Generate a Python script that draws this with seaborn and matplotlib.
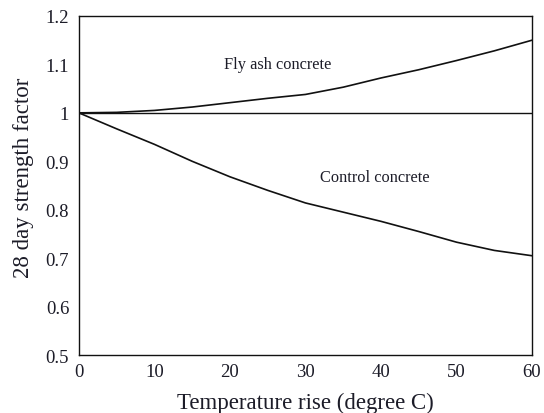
import matplotlib
matplotlib.use("Agg")
import matplotlib.pyplot as plt
import seaborn as sns
import pandas as pd

temperature = [0, 5, 10, 15, 20, 25, 30, 35, 40, 45, 50, 55, 60]
fly_ash = [1.0, 1.001, 1.005, 1.012, 1.021, 1.030, 1.038, 1.053, 1.072, 1.089, 1.108, 1.128, 1.150]
control = [1.0, 0.967, 0.935, 0.900, 0.868, 0.840, 0.814, 0.795, 0.776, 0.755, 0.733, 0.716, 0.705]
x_ticks = [0, 10, 20, 30, 40, 50, 60]
y_ticks = [0.5, 0.6, 0.7, 0.8, 0.9, 1.0, 1.1, 1.2]
y_tick_labels = ["0.5", "0.6", "0.7", "0.8", "0.9", "1", "1.1", "1.2"]

df = pd.DataFrame({
    "Temperature": temperature * 2,
    "Factor": fly_ash + control,
    "Series": ["Fly ash concrete"] * len(temperature) + ["Control concrete"] * len(temperature),
})

sns.set_style("white")
plt.rcParams["font.family"] = ["Liberation Serif", "DejaVu Serif"]
text_color = "#1c1c28"

fig = plt.figure(figsize=(5.44, 4.14), dpi=100)
ax = fig.add_axes([0.145, 0.140, 0.833, 0.819])

sns.lineplot(data=df, x="Temperature", y="Factor", units="Series", estimator=None,
             color="#111111", linewidth=1.2, ax=ax, legend=False)
ax.axhline(1.0, color="#111111", linewidth=1.0)

ax.set_xlim(0, 60)
ax.set_ylim(0.5, 1.2)
ax.set_xticks(x_ticks)
ax.set_yticks(y_ticks)
ax.set_yticklabels(y_tick_labels)
ax.tick_params(axis="both", direction="in", length=4, width=1.0, labelsize=13.5,
               colors="#111111", labelcolor=text_color)
ax.tick_params(axis="y", pad=7)
ax.tick_params(axis="x", pad=6)
for s in ax.spines.values():
    s.set_color("#111111")
    s.set_linewidth(1.0)
    s.set_visible(True)

ax.set_xlabel("Temperature rise (degree C)", fontsize=16.5, color=text_color, labelpad=8)
ax.set_ylabel("28 day strength factor", fontsize=16.5, color=text_color)
ax.yaxis.set_label_coords(-0.100, 0.525)

ax.text(26.3, 1.1, "Fly ash concrete", fontsize=11.8, color=text_color, ha="center", va="center")
ax.text(39.2, 0.868, "Control concrete", fontsize=11.8, color=text_color, ha="center", va="center")

fig.savefig("out.png", dpi=100)
